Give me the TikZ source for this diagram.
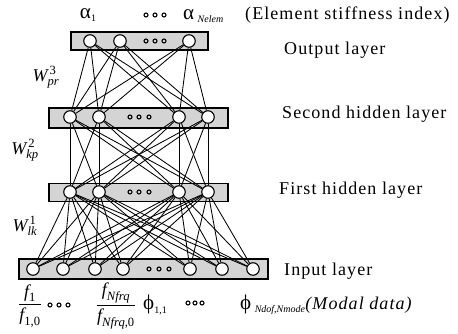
\documentclass[tikz,border=0pt]{standalone}
\usepackage{amsmath}
\usepackage{fontspec}
\setmainfont{Liberation Serif}
\newfontfamily\lblfont[LetterSpace=6]{Liberation Serif}
\newcommand{\smallsub}[1]{\raisebox{-0.35ex}{\fontsize{10}{11}\selectfont#1}}
\usetikzlibrary{positioning}

\tikzset{
  layerbox/.style={draw, line width=1.3pt, fill=black!17, inner sep=0pt},
  neuron/.style={circle, draw, line width=1.1pt, fill=white, minimum size=12.5pt, inner sep=0pt},
  dotc/.style={circle, draw, line width=1.1pt, minimum size=4pt, inner sep=0pt},
  wire/.style={line width=0.85pt},
  lbl/.style={anchor=west, inner sep=0pt, font=\lblfont\fontsize{18}{20}\selectfont},
  sym/.style={inner sep=0pt, font=\fontsize{18}{20}\selectfont},
  bigsym/.style={inner sep=0pt, font=\fontsize{21}{22}\selectfont}
}

\begin{document}
\begin{tikzpicture}[x=1pt, y=-1pt]
\useasboundingbox (0,0) rectangle (458,334);

% layer boxes
\node[layerbox, minimum width=137pt, minimum height=18pt] (obox) at (139.5,41) {};
\node[layerbox, minimum width=179pt, minimum height=20pt] (sbox) at (138.5,118) {};
\node[layerbox, minimum width=179pt, minimum height=18pt] (hbox) at (138.5,192.5) {};
\node[layerbox, minimum width=249pt, minimum height=20pt] (ibox) at (143.5,269) {};

% dots inside the boxes
\foreach \x in {146,155,164} \node[dotc] at (\x,41) {};
\foreach \x in {130,139,149} \node[dotc] at (\x,117) {};
\foreach \x in {130,139,149} \node[dotc] at (\x,192) {};
\foreach \x in {149,159,169} \node[dotc] at (\x,269) {};

% neurons
\foreach \x [count=\n] in {90,120,189} \node[neuron] (o\n) at (\x,41) {};
\foreach \x [count=\n] in {70,99,179,208} \node[neuron] (s\n) at (\x,117) {};
\foreach \x [count=\n] in {70,99,179,208} \node[neuron] (h\n) at (\x,192) {};
\foreach \x [count=\n] in {33,63,95,123,190,222,253} \node[neuron] (i\n) at (\x,269) {};

% connections
\foreach \a in {1,2,3} \foreach \b in {1,...,4} \draw[wire] (o\a) -- (s\b);
\foreach \a in {1,...,4} \foreach \b in {1,...,4} \draw[wire] (s\a) -- (h\b);
\foreach \a in {1,...,4} \foreach \b in {1,...,7} \draw[wire] (h\a) -- (i\b);

% output labels
\node[bigsym] (alpha1) at (88,15) {α\smallsub{1}};
\foreach \x in {146,155,164} \node[dotc] at (\x,15) {};
\node[bigsym, anchor=west] (alphan) at (183,16) {α\,\smallsub{\textit{Nelem}}};

% weights
\node[sym] (w3) at (46,77) {$\textit{W}^{\,\textup{3}}_{\textit{pr}}$};
\node[sym] (w2) at (25,150) {$\textit{W}^{\,\textup{2}}_{\textit{kp}}$};
\node[sym] (w1) at (25,226) {$\textit{W}^{\,\textup{1}}_{\textit{lk}}$};

% layer names
\node[lbl] (title) at (245,15) {(Element stiffness index)};
\node[lbl] (outl) at (284,50) {Output layer};
\node[lbl] (secl) at (282,114) {Second hidden layer};
\node[lbl] (firl) at (279,190) {First hidden layer};
\node[lbl] (inl) at (284,271) {Input layer};

% input data
\node[sym] (fr1) at (30,306) {$\dfrac{\textit{f}_{\textup{1}}}{\textit{f}_{\textup{1,0}}}$};
\foreach \x in {50,59,68} \node[dotc] at (\x,305) {};
\node[sym] (fr2) at (116,306) {$\dfrac{\textit{f}_{\textit{Nfrq}}}{\textit{f}_{\textit{Nfrq}\textup{,0}}}$};
\node[bigsym, anchor=west] (phi1) at (143,305) {ϕ\smallsub{1,1}};
\foreach \x in {188,195,202} \node[dotc] at (\x,303) {};
\node[bigsym, anchor=west] (phin) at (240,305) {ϕ\,\smallsub{\textit{Ndof},\textit{Nmode}}};
\node[lbl, font=\lblfont\itshape\fontsize{18}{20}\selectfont, right=0pt of phin] (modal) {(Modal data)};
\end{tikzpicture}
\end{document}
